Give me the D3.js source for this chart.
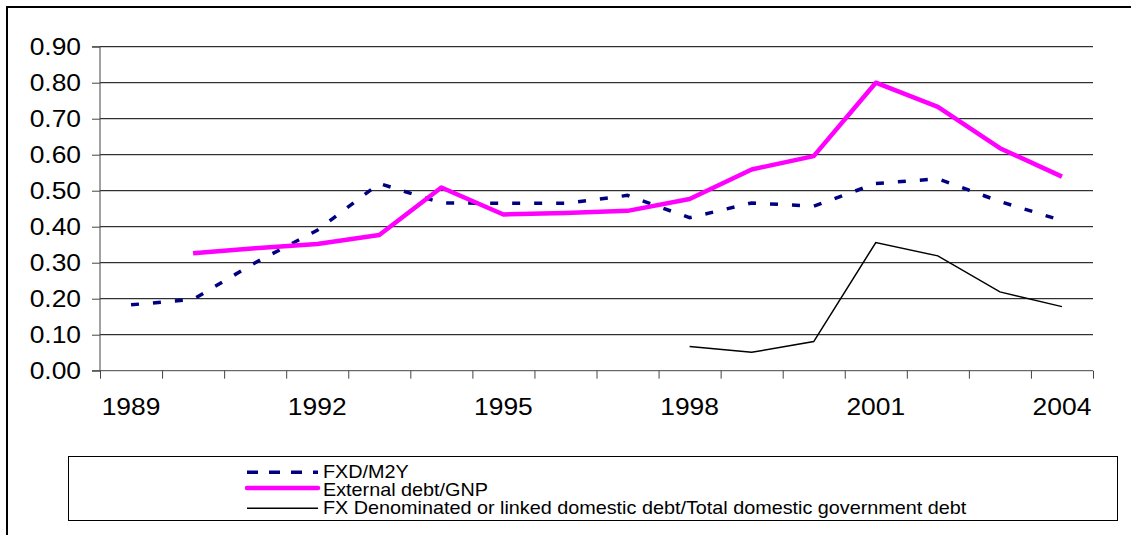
<!DOCTYPE html>
<html>
<head>
<meta charset="utf-8">
<script src="https://cdn.jsdelivr.net/npm/d3@7"></script>
<style>
  body { margin: 0; background: #fff; }
  text { font-family: "Liberation Sans", Arial, sans-serif; fill: #000; }
</style>
</head>
<body>
<div id="chart"></div>
<script>
const years = ["1989","1990","1991","1992","1993","1994","1995","1996","1997","1998","1999","2000","2001","2002","2003","2004"]
const yearLabels = ["1989","1992","1995","1998","2001","2004"]
const yTicks = [0, 0.1, 0.2, 0.3, 0.4, 0.5, 0.6, 0.7, 0.8, 0.9]

const fxdM2y = [0.183, 0.198, 0.30, 0.39, 0.52, 0.466, 0.465, 0.465, 0.487, 0.425, 0.466, 0.457, 0.52, 0.533, 0.47, 0.417]
const extDebtGnp = [null, 0.326, 0.34, 0.352, 0.377, 0.509, 0.434, 0.438, 0.444, 0.477, 0.559, 0.596, 0.80, 0.733, 0.618, 0.539]
const fxDomDebt = [null, null, null, null, null, null, null, null, null, 0.067, 0.051, 0.081, 0.356, 0.319, 0.219, 0.178]

const seriesNames = ["FXD/M2Y", "External debt/GNP", "FX Denominated or linked domestic debt/Total domestic government debt"]

const width = 1131
const height = 535
const plot = { left: 100, right: 1093, top: 46.7, bottom: 370.7 }
const sx = 1.1

const svg = d3.select("#chart").append("svg")
  .attr("width", width)
  .attr("height", height)

// outer frame (only top/left are inside the picture)
svg.append("rect")
  .attr("x", 7).attr("y", 7)
  .attr("width", width + 20).attr("height", height + 20)
  .attr("fill", "none").attr("stroke", "#000").attr("stroke-width", 2)

const x = d3.scaleBand().domain(years).range([plot.left, plot.right]).padding(0)
const xEdge = d3.scaleLinear().domain([0, years.length]).range([plot.left, plot.right])
const y = d3.scaleLinear().domain([0, 0.9]).range([plot.bottom, plot.top])
const cx = d => x(d) + x.bandwidth() / 2

// gridlines
svg.append("g")
  .selectAll("line")
  .data(yTicks.filter(d => d > 0))
  .join("line")
  .attr("x1", plot.left).attr("x2", plot.right)
  .attr("y1", d => y(d)).attr("y2", d => y(d))
  .attr("stroke", "#000").attr("stroke-width", 1)

// y axis
const yAxis = svg.append("g")
  .attr("transform", `translate(${plot.left},0)`)
  .call(d3.axisLeft(y).tickValues(yTicks).tickSize(8).tickFormat(""))
yAxis.selectAll("path, line").attr("stroke", "#444")
yAxis.select(".domain").attr("d", `M-8,${y(0.9)}H0V${y(0)}H-8`)

svg.append("g")
  .selectAll("text")
  .data(yTicks)
  .join("text")
  .attr("transform", d => `translate(81,${y(d) + 8.5}) scale(${sx},1)`)
  .attr("text-anchor", "end")
  .attr("font-size", 24)
  .text(d3.format(".2f"))

// x axis
const xAxis = svg.append("g")
  .attr("transform", `translate(0,${plot.bottom})`)
  .call(d3.axisBottom(xEdge).tickValues(d3.range(years.length + 1)).tickSize(8).tickFormat(""))
xAxis.selectAll("path, line").attr("stroke", "#444")
xAxis.select(".domain").attr("d", `M${plot.left},0H${plot.right}`)

svg.append("g")
  .selectAll("text")
  .data(yearLabels)
  .join("text")
  .attr("transform", d => `translate(${cx(d)},415) scale(${sx},1)`)
  .attr("text-anchor", "middle")
  .attr("font-size", 24)
  .text(d => d)

const line = d3.line()
  .defined(d => d[1] != null)
  .x(d => cx(d[0]))
  .y(d => y(d[1]))

const pair = arr => years.map((yr, i) => [yr, arr[i]])

svg.append("path")
  .datum(pair(fxDomDebt))
  .attr("d", line)
  .attr("fill", "none").attr("stroke", "#000").attr("stroke-width", 1.5)

svg.append("path")
  .datum(pair(fxdM2y))
  .attr("d", line)
  .attr("fill", "none").attr("stroke", "#000080").attr("stroke-width", 3.5)
  .attr("stroke-dasharray", "8,14")

svg.append("path")
  .datum(pair(extDebtGnp))
  .attr("d", line)
  .attr("fill", "none").attr("stroke", "#ff00ff").attr("stroke-width", 4.5)
  .attr("stroke-linejoin", "round")

// legend
const legend = svg.append("g")
legend.append("rect")
  .attr("x", 68.5).attr("y", 456.5)
  .attr("width", 1049).attr("height", 64)
  .attr("fill", "none").attr("stroke", "#000").attr("stroke-width", 1)

const legendStyles = [
  { stroke: "#000080", w: 3.5, dash: "11,11", y: 472.3 },
  { stroke: "#ff00ff", w: 4.5, dash: null, y: 488 },
  { stroke: "#000", w: 1.5, dash: null, y: 508.3 }
]

legend.selectAll("line")
  .data(legendStyles)
  .join("line")
  .attr("x1", 247).attr("x2", 318)
  .attr("y1", d => d.y).attr("y2", d => d.y)
  .attr("stroke", d => d.stroke)
  .attr("stroke-width", d => d.w)
  .attr("stroke-linecap", (d, i) => i === 1 ? "round" : "butt")
  .attr("stroke-dasharray", d => d.dash)

legend.selectAll("text")
  .data(seriesNames)
  .join("text")
  .attr("transform", (d, i) => `translate(323,${[477.5, 495.5, 514][i]}) scale(${sx},1)`)
  .attr("font-size", 18)
  .text(d => d)
</script>
</body>
</html>
